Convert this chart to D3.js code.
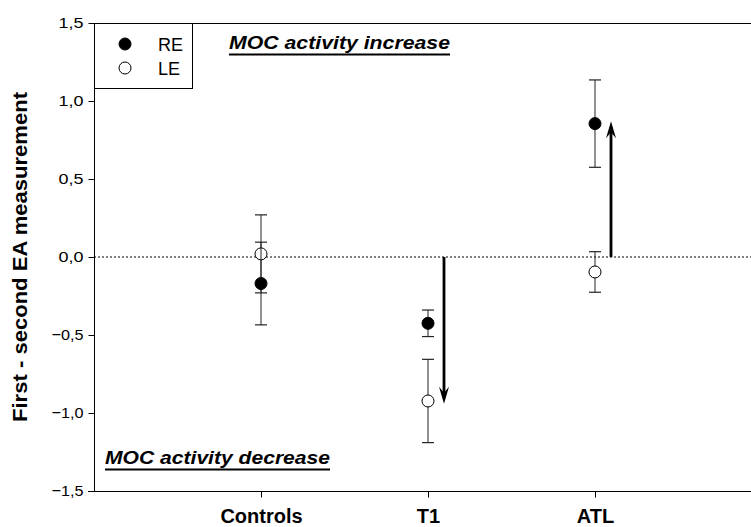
<!DOCTYPE html>
<html lang="en">
<head>
  <meta charset="UTF-8">
  <title>MOC activity</title>
  <script src="https://d3js.org/d3.v7.min.js"></script>
  <style>
    body { margin: 0; background: #fff; }
    svg { display: block; font-family: "Liberation Sans", Arial, sans-serif; }
  </style>
</head>
<body>
  <svg id="chart" width="751" height="527"></svg>
  <script>
    // group categories and values
    const groups = ["Controls", "T1", "ATL"];
    const reMean = [-0.17, -0.425, 0.855];
    const reErr = [0.265, 0.085, 0.28];
    const leMean = [0.02, -0.923, -0.096];
    const leErr = [0.25, 0.267, 0.13];
    // arrows: group, start value, end value
    const arrowGroups = ["T1", "ATL"];
    const arrowFrom = [0, 0];
    const arrowTo = [-0.94, 0.87];
    const yTicks = [-1.5, -1.0, -0.5, 0.0, 0.5, 1.0, 1.5];

    const svg = d3.select("#chart");
    const mLeft = 94, mTop = 23, mBottom = 491, mRight = 762;

    const x = d3.scalePoint().domain(groups).range([mLeft, mRight]).padding(1);
    const y = d3.scaleLinear().domain([-1.5, 1.5]).range([mBottom, mTop]);
    const arrowOffset = 16;

    const fmt = d => d3.format(".1f")(d).replace(".", ",");

    // zero line
    svg.append("line")
      .attr("x1", mLeft).attr("x2", 751)
      .attr("y1", y(0)).attr("y2", y(0))
      .attr("stroke", "#000").attr("stroke-width", 1)
      .attr("stroke-dasharray", "2,2");

    // top frame line
    svg.append("line")
      .attr("x1", mLeft).attr("x2", 751)
      .attr("y1", mTop + 0.5).attr("y2", mTop + 0.5)
      .attr("stroke", "#000");

    // y axis
    const yAxis = svg.append("g")
      .attr("transform", `translate(${mLeft + 0.5},0)`)
      .call(d3.axisLeft(y).tickValues(yTicks).tickFormat(fmt).tickSize(6).tickPadding(5));
    yAxis.select(".domain").attr("d", `M0,${mTop}V${mBottom}`);
    yAxis.selectAll("text")
      .attr("font-size", 15.5).attr("font-family", "Liberation Sans, Arial, sans-serif")
      .attr("fill", "#000")
      .attr("textLength", d => fmt(d).length === 3 ? 25 : 32)
      .attr("lengthAdjust", "spacingAndGlyphs");

    // x axis
    const xAxis = svg.append("g")
      .attr("transform", `translate(0,${mBottom + 0.5})`)
      .call(d3.axisBottom(x).tickSize(6).tickPadding(11));
    xAxis.select(".domain").attr("d", `M${mLeft - 6},0H751`);
    xAxis.selectAll("text")
      .attr("font-size", 20).attr("font-weight", "bold")
      .attr("font-family", "Liberation Sans, Arial, sans-serif")
      .attr("fill", "#000");

    // y label
    svg.append("text")
      .attr("transform", `translate(27,${y(0)}) rotate(-90)`)
      .attr("text-anchor", "middle")
      .attr("font-size", 20).attr("font-weight", "bold")
      .attr("textLength", 330).attr("lengthAdjust", "spacingAndGlyphs")
      .text("First - second EA measurement");

    // error bars + points
    function series(means, errs) {
      const g = svg.append("g");
      groups.forEach((grp, i) => {
        const cx = x(grp);
        const hi = y(means[i] + errs[i]), lo = y(means[i] - errs[i]);
        g.append("line").attr("x1", cx).attr("x2", cx).attr("y1", hi).attr("y2", lo)
          .attr("stroke", "#222").attr("stroke-width", 1);
        [hi, lo].forEach(v => g.append("line")
          .attr("x1", cx - 6).attr("x2", cx + 6).attr("y1", v).attr("y2", v)
          .attr("stroke", "#222").attr("stroke-width", 1.2));
      });
      return g;
    }
    const gLE = series(leMean, leErr);
    const gRE = series(reMean, reErr);
    gLE.selectAll("circle.pt").data(leMean).join("circle")
      .attr("cx", (d, i) => x(groups[i])).attr("cy", d => y(d)).attr("r", 6)
      .attr("fill", "#fff").attr("stroke", "#000").attr("stroke-width", 1);
    gRE.selectAll("circle.pt").data(reMean).join("circle")
      .attr("cx", (d, i) => x(groups[i])).attr("cy", d => y(d)).attr("r", 6)
      .attr("fill", "#000").attr("stroke", "#000");

    // arrows
    arrowGroups.forEach((grp, i) => {
      const ax = x(grp) + arrowOffset;
      const y0 = y(arrowFrom[i]), y1 = y(arrowTo[i]);
      const dir = y1 > y0 ? 1 : -1;
      svg.append("line")
        .attr("x1", ax).attr("x2", ax).attr("y1", y0).attr("y2", y1 - dir * 6)
        .attr("stroke", "#000").attr("stroke-width", 2.8);
      svg.append("path")
        .attr("d", `M${ax},${y1} L${ax - 5},${y1 - dir * 17} L${ax},${y1 - dir * 11} L${ax + 5},${y1 - dir * 17} Z`)
        .attr("fill", "#000");
    });

    // legend
    svg.append("rect")
      .attr("x", mLeft + 0.5).attr("y", mTop + 0.5).attr("width", 98).attr("height", 65)
      .attr("fill", "#fff").attr("stroke", "#000");
    const legendItems = [["RE", "#000", 44], ["LE", "#fff", 68]];
    legendItems.forEach(([lab, fill, ly]) => {
      svg.append("circle").attr("cx", 125).attr("cy", ly).attr("r", 6)
        .attr("fill", fill).attr("stroke", "#000");
      svg.append("text").attr("x", 158).attr("y", ly + 7)
        .attr("font-size", 18).text(lab);
    });

    // annotations
    function note(txt, tx, ty, len) {
      svg.append("text").attr("x", tx).attr("y", ty)
        .attr("font-size", 19).attr("font-weight", "bold").attr("font-style", "italic")
        .attr("textLength", len).attr("lengthAdjust", "spacingAndGlyphs")
        .text(txt);
      svg.append("line").attr("x1", tx).attr("x2", tx + len)
        .attr("y1", ty + 5.5).attr("y2", ty + 5.5)
        .attr("stroke", "#000").attr("stroke-width", 2);
    }
    note("MOC activity increase", 229, 49, 221);
    note("MOC activity decrease", 105, 464, 225);
  </script>
</body>
</html>
